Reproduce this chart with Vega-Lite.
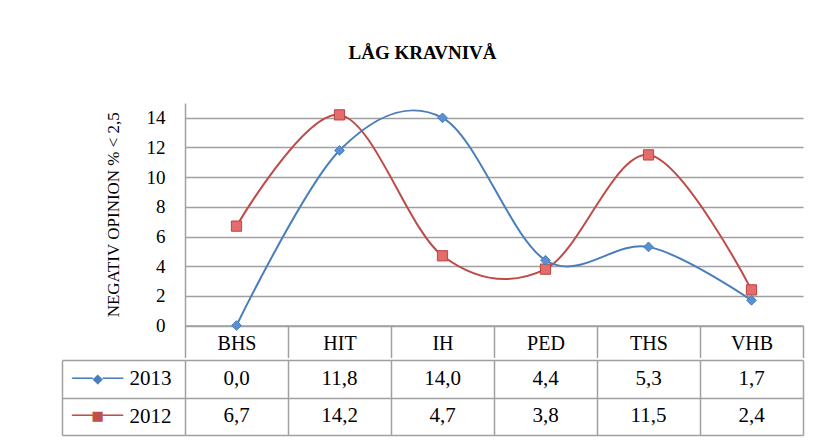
{
  "$schema": "https://vega.github.io/schema/vega-lite/v6.json",
  "padding": {"left": 61, "top": 44, "right": 10, "bottom": 4},
  "background": "#ffffff",
  "title": {
    "text": "LÅG KRAVNIVÅ",
    "font": "Liberation Serif",
    "fontSize": 19,
    "fontWeight": "bold",
    "color": "#000000",
    "anchor": "middle",
    "offset": 40,
    "dx": -10
  },
  "data": {
    "values": [
      {"cat": "BHS", "year": "2012", "value": 6.7},
      {"cat": "HIT", "year": "2012", "value": 14.2},
      {"cat": "IH", "year": "2012", "value": 4.7},
      {"cat": "PED", "year": "2012", "value": 3.8},
      {"cat": "THS", "year": "2012", "value": 11.5},
      {"cat": "VHB", "year": "2012", "value": 2.4},
      {"cat": "BHS", "year": "2013", "value": 0.0},
      {"cat": "HIT", "year": "2013", "value": 11.8},
      {"cat": "IH", "year": "2013", "value": 14.0},
      {"cat": "PED", "year": "2013", "value": 4.4},
      {"cat": "THS", "year": "2013", "value": 5.3},
      {"cat": "VHB", "year": "2013", "value": 1.7}
    ]
  },
  "spacing": -10,
  "vconcat": [
    {
      "width": 618,
      "height": 222.5,
      "encoding": {
        "x": {
          "field": "cat",
          "type": "nominal",
          "bandPosition": 0.5,
          "scale": {"type": "band", "domain": ["BHS", "HIT", "IH", "PED", "THS", "VHB"], "paddingInner": 0, "paddingOuter": 0},
          "axis": {
            "title": null,
            "orient": "bottom",
            "domain": true,
            "domainColor": "#A0A0A0",
            "domainWidth": 1.5,
            "ticks": true,
            "tickBand": "extent",
            "tickSize": 32,
            "tickColor": "#A0A0A0",
            "tickWidth": 1.5,
            "grid": false,
            "labelAngle": 0,
            "labelFont": "Liberation Serif",
            "labelFontSize": 20,
            "labelColor": "#000000",
            "labelBaseline": "middle",
            "labelPadding": -14,
            "labelOverlap": false
          }
        },
        "y": {
          "field": "value",
          "type": "quantitative",
          "scale": {"domain": [0, 15], "nice": false, "zero": true},
          "axis": {
            "title": "NEGATIV OPINION % < 2,5",
            "titleFont": "Liberation Serif",
            "titleFontSize": 17,
            "titleFontWeight": "normal",
            "titleColor": "#000000",
            "titlePadding": 24,
            "values": [0, 2, 4, 6, 8, 10, 12, 14],
            "labelOverlap": false,
            "grid": true,
            "gridColor": "#A0A0A0",
            "gridWidth": 1.5,
            "domain": true,
            "domainColor": "#A0A0A0",
            "domainWidth": 1.5,
            "ticks": false,
            "tickSize": 0,
            "labelFont": "Liberation Serif",
            "labelFontSize": 19,
            "labelColor": "#000000",
            "labelPadding": 20
          }
        }
      },
      "layer": [
        {
          "mark": {"type": "line", "interpolate": "cardinal", "strokeWidth": 2},
          "encoding": {
            "color": {
              "field": "year",
              "type": "nominal",
              "scale": {"domain": ["2013", "2012"], "range": ["#4A7EBB", "#BE4B48"]},
              "legend": null
            }
          }
        },
        {
          "mark": {"type": "point", "filled": true, "opacity": 1, "strokeWidth": 1},
          "encoding": {
            "shape": {"field": "year", "type": "nominal", "scale": {"domain": ["2013", "2012"], "range": ["diamond", "square"]}, "legend": null},
            "fill": {"field": "year", "type": "nominal", "scale": {"domain": ["2013", "2012"], "range": ["#5B8FD3", "#E46C6A"]}, "legend": null},
            "stroke": {"field": "year", "type": "nominal", "scale": {"domain": ["2013", "2012"], "range": ["#4A7EBB", "#B94441"]}, "legend": null},
            "size": {"field": "year", "type": "nominal", "scale": {"domain": ["2013", "2012"], "range": [95, 105]}, "legend": null}
          }
        }
      ]
    },
    {
      "width": 618,
      "height": 75,
      "resolve": {"axis": {"y": "independent"}},
      "layer": [
        {
          "mark": {"type": "text", "font": "Liberation Serif", "fontSize": 21, "color": "#000000", "baseline": "middle"},
          "encoding": {
            "x": {
              "field": "cat",
              "type": "nominal",
              "scale": {"type": "band", "domain": ["BHS", "HIT", "IH", "PED", "THS", "VHB"], "paddingInner": 0, "paddingOuter": 0},
              "axis": {
                "title": null,
                "labels": false,
                "ticks": false,
                "domain": false,
                "grid": true,
                "tickBand": "extent",
                "gridColor": "#A0A0A0",
                "gridWidth": 1.5
              }
            },
            "y": {
              "field": "year",
              "type": "nominal",
              "scale": {"type": "band", "domain": ["2013", "2012"], "paddingInner": 0, "paddingOuter": 0},
              "axis": {
                "title": null,
                "orient": "left",
                "domain": false,
                "ticks": true,
                "tickBand": "extent",
                "tickSize": 123,
                "tickColor": "#A0A0A0",
                "tickWidth": 1.5,
                "grid": true,
                "gridColor": "#A0A0A0",
                "gridWidth": 1.5,
                "labelFont": "Liberation Serif",
                "labelFontSize": 21,
                "labelColor": "#000000",
                "labelAlign": "left",
                "labelBaseline": "middle",
                "labelPadding": -67
              }
            },
            "text": {"field": "value", "type": "quantitative", "format": ".1f"}
          }
        },
        {
          "mark": {"type": "text", "text": ""},
          "encoding": {
            "y": {
              "field": "year",
              "type": "nominal",
              "axis": {
                "title": null,
                "orient": "left",
                "offset": 123,
                "domain": true,
                "domainColor": "#A0A0A0",
                "domainWidth": 1.5,
                "ticks": false,
                "tickSize": 0,
                "grid": false,
                "labelExpr": "datum.value == '2013' ? '──◆──' : '──■──'",
                "labelFont": "DejaVu Sans Mono",
                "labelFontSize": 17,
                "labelAlign": "center",
                "labelBaseline": "middle",
                "labelPadding": -35,
                "labelColor": {"condition": {"test": "datum.value == '2013'", "value": "#4A7EBB"}, "value": "#C0504D"}
              }
            }
          }
        }
      ]
    }
  ],
  "config": {
    "view": {"stroke": null},
    "locale": {
      "number": {"decimal": ",", "thousands": " ", "grouping": [3], "currency": ["", " kr"]}
    }
  }
}
